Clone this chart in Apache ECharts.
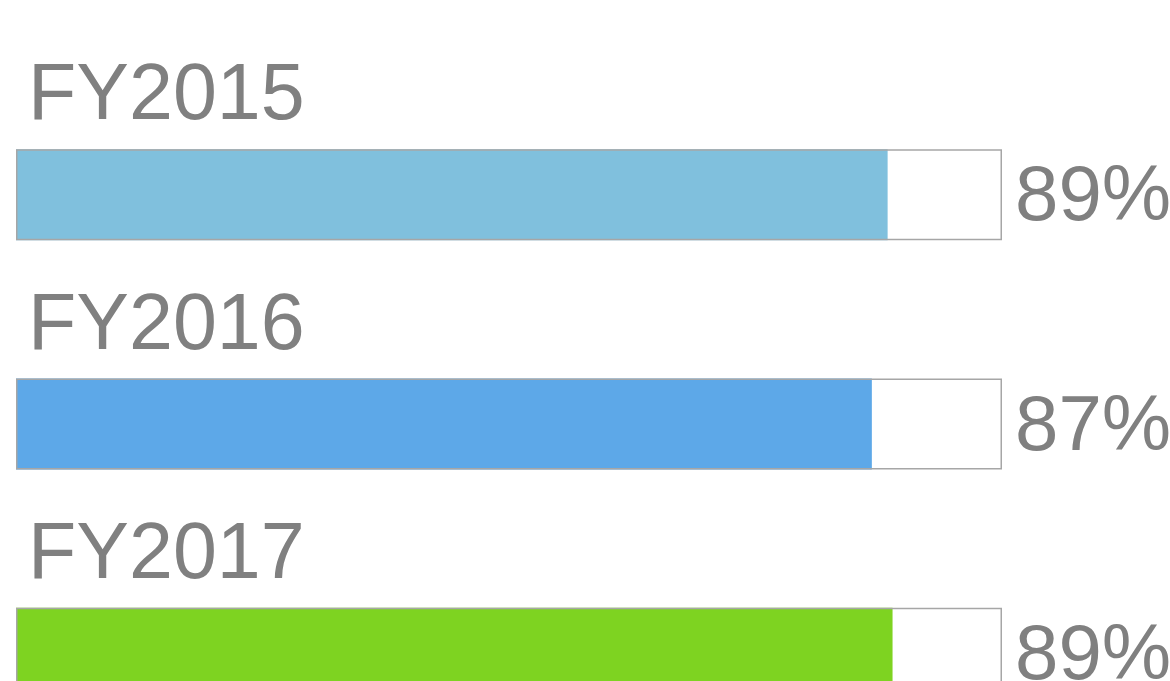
<!DOCTYPE html>
<html>
<head>
<meta charset="utf-8">
<script src="https://cdn.jsdelivr.net/npm/echarts@6/dist/echarts.min.js"></script>
<style>
  html, body { margin: 0; padding: 0; background: #fff; }
  #chart { width: 1170px; height: 681px; }
</style>
</head>
<body>
<div id="chart"></div>
<script>
const years = ["FY2015", "FY2016", "FY2017"];
const shares = [88.4, 86.8, 88.9];
const shareLabels = ["89%", "87%", "89%"];
const full = [100, 100, 100];

const BAR_COLORS = ["#80C0DD", "#5DA8E8", "#7ED321"];
const TEXT = "#808080";

const chart = echarts.init(document.getElementById("chart"));

chart.setOption({
  animation: false,
  // grid runs past the bottom edge so the last bar gets cut like the original
  grid: { left: 16, right: 168, top: 80, height: 688, outerBoundsMode: "none" },
  xAxis: { type: "value", min: 0, max: 100, show: false },
  yAxis: {
    type: "category",
    data: years,
    inverse: true,
    show: false,
  },
  series: [
    {
      // filled part
      type: "bar",
      barWidth: 91,
      data: shares.map((v, i) => ({
        value: v,
        itemStyle: { color: BAR_COLORS[i] },
      })),
      label: {
        show: true,
        position: [12, -51.5],
        align: "left",
        verticalAlign: "middle",
        formatter: (p) => years[p.dataIndex],
        fontFamily: "Liberation Sans, Arial, sans-serif",
        fontSize: 79,
        color: TEXT,
      },
      z: 2,
    },
    {
      // outline box
      type: "bar",
      barWidth: 91,
      barGap: "-100%",
      data: full,
      itemStyle: {
        color: "rgba(0,0,0,0)",
        borderColor: "#A6A6A6",
        borderWidth: 1.5,
      },
      label: {
        show: true,
        position: "right",
        distance: 13,
        offset: [0, 4],
        formatter: (p) => shareLabels[p.dataIndex],
        fontFamily: "Liberation Sans, Arial, sans-serif",
        fontSize: 78,
        color: TEXT,
      },
      z: 3,
    },
  ],
});
</script>
</body>
</html>
